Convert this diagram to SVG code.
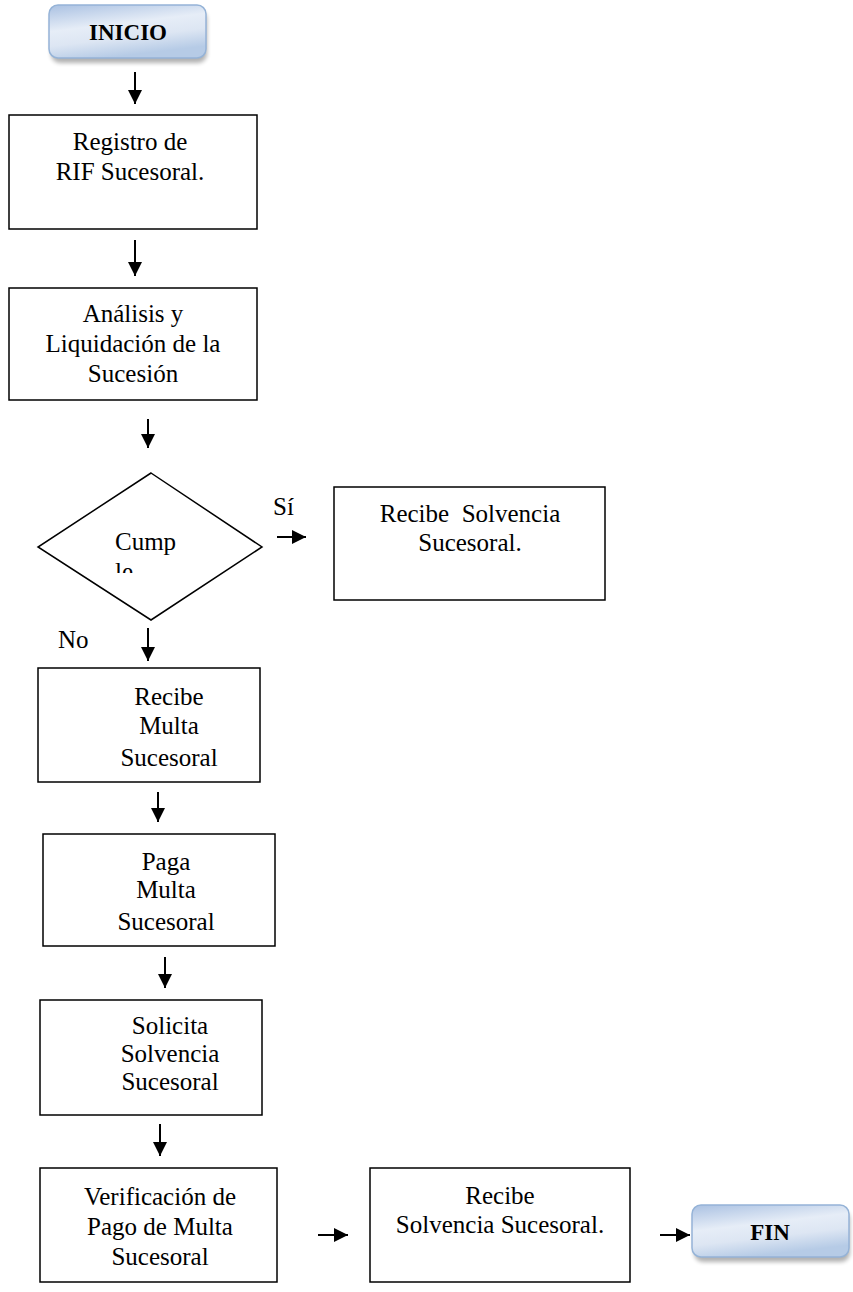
<svg xmlns="http://www.w3.org/2000/svg" width="853" height="1292" viewBox="0 0 853 1292">
<style>
.box{fill:#fff;stroke:#000;stroke-width:1.5}
.t{font-family:"Liberation Serif","Times New Roman",serif;font-size:25px;fill:#000}
.b{font-family:"Liberation Serif","Times New Roman",serif;font-size:23px;font-weight:bold;fill:#000}
.c{stroke:#000;stroke-width:2;fill:none;marker-end:url(#ah)}
.term{fill:url(#g);stroke:#95b3d7;stroke-width:1.5}
.sh{fill:#000;opacity:0.3;filter:url(#blur)}
</style>
<defs>
<marker id="ah" viewBox="0 0 14 14" refX="14" refY="7" markerWidth="14" markerHeight="14" markerUnits="userSpaceOnUse" orient="auto">
<path d="M0,0 L14,7 L0,14 Z" fill="#000"/>
</marker>
<linearGradient id="g" x1="0" y1="0" x2="0.35" y2="1">
<stop offset="0" stop-color="#aac1e2"/>
<stop offset="0.45" stop-color="#e6edf7"/>
<stop offset="0.7" stop-color="#dde6f3"/>
<stop offset="1" stop-color="#b6cbe6"/>
</linearGradient>
<filter id="blur" x="-10%" y="-20%" width="120%" height="150%"><feGaussianBlur stdDeviation="2"/></filter>
<clipPath id="clipLe"><rect x="100" y="555" width="100" height="18"/></clipPath>
</defs>

<g id="inicio">
<rect class="sh" x="51" y="10" width="156" height="53" rx="9"/>
<rect class="term" x="49" y="5" width="157" height="53" rx="9"/>
<text class="b" x="128" y="40" text-anchor="middle">INICIO</text>
</g>

<g id="registro">
<rect class="box" x="9" y="115" width="248" height="114"/>
<text class="t" x="130" y="150" text-anchor="middle">Registro de</text>
<text class="t" x="130" y="180" text-anchor="middle">RIF Sucesoral.</text>
</g>

<g id="analisis">
<rect class="box" x="9" y="288" width="248" height="112"/>
<text class="t" x="133" y="322" text-anchor="middle">Análisis y</text>
<text class="t" x="133" y="352" text-anchor="middle">Liquidación de la</text>
<text class="t" x="133" y="382" text-anchor="middle">Sucesión</text>
</g>

<g id="cumple">
<polygon class="box" points="151,473 262,547 151,620 38,547"/>
<text class="t" x="115" y="550">Cump</text>
<text class="t" x="115" y="580" clip-path="url(#clipLe)">le</text>
</g>

<g id="recibe-solvencia-1">
<rect class="box" x="334" y="487" width="271" height="113"/>
<text class="t" x="470" y="522" xml:space="preserve" text-anchor="middle">Recibe  Solvencia</text>
<text class="t" x="470" y="551" text-anchor="middle">Sucesoral.</text>
</g>

<g id="recibe-multa">
<rect class="box" x="38" y="668" width="222" height="114"/>
<text class="t" x="169" y="705" text-anchor="middle">Recibe</text>
<text class="t" x="169" y="734" text-anchor="middle">Multa</text>
<text class="t" x="169" y="766" text-anchor="middle">Sucesoral</text>
</g>

<g id="paga-multa">
<rect class="box" x="43" y="834" width="232" height="112"/>
<text class="t" x="166" y="870" text-anchor="middle">Paga</text>
<text class="t" x="166" y="898" text-anchor="middle">Multa</text>
<text class="t" x="166" y="930" text-anchor="middle">Sucesoral</text>
</g>

<g id="solicita">
<rect class="box" x="40" y="1000" width="222" height="115"/>
<text class="t" x="170" y="1034" text-anchor="middle">Solicita</text>
<text class="t" x="170" y="1062" text-anchor="middle">Solvencia</text>
<text class="t" x="170" y="1090" text-anchor="middle">Sucesoral</text>
</g>

<g id="verificacion">
<rect class="box" x="40" y="1168" width="237" height="114"/>
<text class="t" x="160" y="1205" text-anchor="middle">Verificación de</text>
<text class="t" x="160" y="1235" text-anchor="middle">Pago de Multa</text>
<text class="t" x="160" y="1265" text-anchor="middle">Sucesoral</text>
</g>

<g id="recibe-solvencia-2">
<rect class="box" x="370" y="1168" width="260" height="114"/>
<text class="t" x="500" y="1204" text-anchor="middle">Recibe</text>
<text class="t" x="500" y="1233" text-anchor="middle">Solvencia Sucesoral.</text>
</g>

<g id="fin">
<rect class="sh" x="694" y="1210" width="156" height="52" rx="9"/>
<rect class="term" x="692" y="1205" width="157" height="52" rx="9"/>
<text class="b" x="770" y="1240" text-anchor="middle">FIN</text>
</g>

<g id="labels">
<text class="t" x="273" y="515">Sí</text>
<text class="t" x="58" y="648">No</text>
</g>

<g id="connectors">
<line class="c" x1="135" y1="72" x2="135" y2="104"/>
<line class="c" x1="135" y1="240" x2="135" y2="276"/>
<line class="c" x1="148" y1="419" x2="148" y2="448"/>
<line class="c" x1="277" y1="537" x2="306" y2="537"/>
<line class="c" x1="148" y1="628" x2="148" y2="661"/>
<line class="c" x1="158" y1="792" x2="158" y2="822"/>
<line class="c" x1="165" y1="957" x2="165" y2="988"/>
<line class="c" x1="160" y1="1124" x2="160" y2="1156"/>
<line class="c" x1="318" y1="1235" x2="348" y2="1235"/>
<line class="c" x1="660" y1="1235" x2="690" y2="1235"/>
</g>
</svg>
